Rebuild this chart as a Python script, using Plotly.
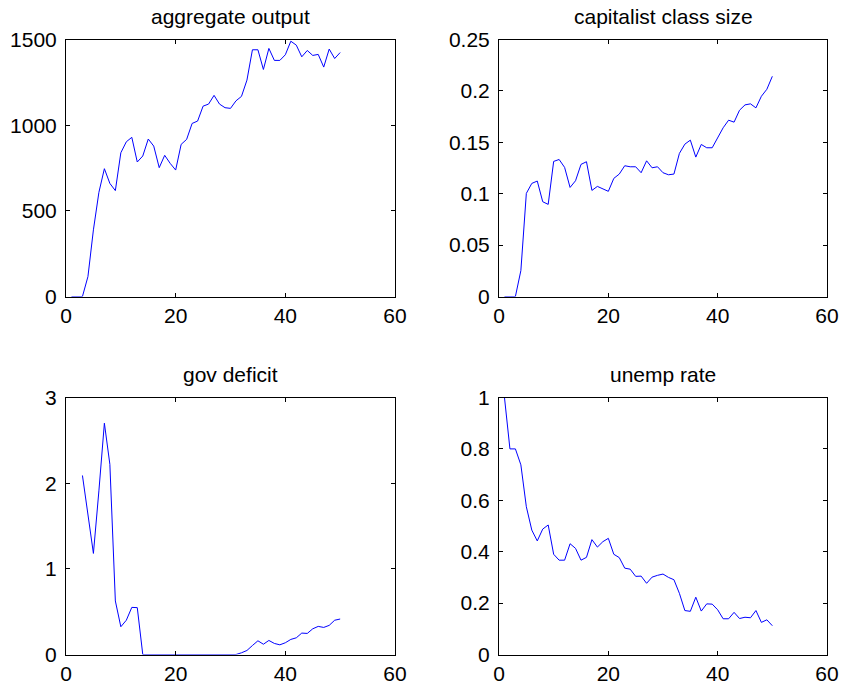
import plotly.graph_objects as go

steps = list(range(1, 51))

aggregate_output = [0, 0, 0, 116, 389, 608, 746, 660, 618, 839,
                    903, 929, 785, 820, 919, 878, 752, 824, 777, 738,
                    888, 917, 1010, 1024, 1111, 1123, 1174, 1123, 1102, 1098,
                    1142, 1168, 1263, 1440, 1440, 1325, 1448, 1378, 1378, 1411,
                    1490, 1467, 1399, 1436, 1407, 1413, 1339, 1444, 1389, 1424]

capitalist_class_size = [0, 0, 0, 0.0252, 0.1003, 0.110, 0.1123, 0.0922, 0.0896, 0.1314,
                         0.1333, 0.1256, 0.1061, 0.1126, 0.1285, 0.1311, 0.1032, 0.1071, 0.1045, 0.1023,
                         0.1149, 0.1191, 0.1272, 0.1262, 0.1262, 0.1204, 0.1320, 0.1252, 0.1262, 0.1204,
                         0.1184, 0.1191, 0.1392, 0.1482, 0.1521, 0.1356, 0.1479, 0.1447, 0.1447, 0.1547,
                         0.1641, 0.1715, 0.1696, 0.1812, 0.1864, 0.1874, 0.1835, 0.1948, 0.2016, 0.2142]

gov_deficit = [None, None, 2.09, 1.65, 1.18, 1.91, 2.70, 2.22, 0.625, 0.324,
               0.40, 0.55, 0.547, 0, 0, 0, 0, 0, 0, 0,
               0, 0, 0, 0, 0, 0, 0, 0, 0, 0,
               0, 0.02, 0.047, 0.105, 0.16, 0.12, 0.164, 0.129, 0.113, 0.137,
               0.176, 0.195, 0.25, 0.246, 0.30, 0.328, 0.316, 0.34, 0.40, 0.414]

unemp_rate = [1.0, 0.8, 0.8, 0.738, 0.575, 0.484, 0.442, 0.488, 0.504, 0.39,
              0.367, 0.367, 0.431, 0.413, 0.367, 0.378, 0.447, 0.418, 0.439, 0.452,
              0.39, 0.377, 0.336, 0.332, 0.304, 0.305, 0.277, 0.301, 0.308, 0.313,
              0.30, 0.291, 0.238, 0.171, 0.168, 0.223, 0.169, 0.197, 0.196, 0.174,
              0.139, 0.139, 0.164, 0.140, 0.145, 0.143, 0.171, 0.125, 0.135, 0.112]

titles = ["aggregate output", "capitalist class size", "gov deficit", "unemp rate"]
series = [aggregate_output, capitalist_class_size, gov_deficit, unemp_rate]
y_ranges = [[0, 1500], [0, 0.25], [0, 3], [0, 1]]
y_ticks = [[0, 500, 1000, 1500],
           [0, 0.05, 0.1, 0.15, 0.2, 0.25],
           [0, 1, 2, 3],
           [0, 0.2, 0.4, 0.6, 0.8, 1]]
y_ticktext = [["0", "500", "1000", "1500"],
              ["0", "0.05", "0.1", "0.15", "0.2", "0.25"],
              ["0", "1", "2", "3"],
              ["0", "0.2", "0.4", "0.6", "0.8", "1"]]
x_ticks = [0, 20, 40, 60]

W, H = 841, 686
x_doms = [[66 / W, 395 / W], [499 / W, 827 / W]]
y_doms = [[1 - 296.5 / H, 1 - 39.5 / H], [1 - 654.5 / H, 1 - 397.5 / H]]

FONT = "Liberation Sans, Arial, Helvetica, sans-serif"
FS = 21

fig = go.Figure()
layout = dict(
    width=W, height=H,
    margin=dict(l=0, r=0, t=0, b=0, autoexpand=False),
    paper_bgcolor="white", plot_bgcolor="white",
    showlegend=False,
    font=dict(family=FONT, size=FS, color="black"),
    annotations=[],
)

for i in range(4):
    r, c = divmod(i, 2)
    n = "" if i == 0 else str(i + 1)
    fig.add_trace(go.Scatter(
        x=steps, y=series[i], mode="lines",
        line=dict(color="#0000ff", width=1),
        xaxis="x" + n, yaxis="y" + n, connectgaps=False,
    ))
    axis_common = dict(
        showgrid=False, zeroline=False, showline=True, linecolor="black",
        linewidth=1, mirror="ticks", ticks="inside", ticklen=4,
        tickcolor="black", tickwidth=1, automargin=False,
        tickfont=dict(family=FONT, size=FS, color="black"),
    )
    layout["xaxis" + n] = dict(
        axis_common, domain=x_doms[c], range=[0, 60],
        tickmode="array", tickvals=x_ticks,
        ticktext=[str(v) for v in x_ticks],
        anchor="y" + n, ticklabelstandoff=0,
    )
    layout["yaxis" + n] = dict(
        axis_common, domain=y_doms[r], range=y_ranges[i],
        tickmode="array", tickvals=y_ticks[i], ticktext=y_ticktext[i],
        anchor="x" + n, ticklabelstandoff=4,
    )
    layout["annotations"].append(dict(
        text=titles[i], xref="paper", yref="paper",
        x=(x_doms[c][0] + x_doms[c][1]) / 2, y=y_doms[r][1] + 23 / H,
        xanchor="center", yanchor="middle", showarrow=False,
        font=dict(family=FONT, size=FS, color="black"),
    ))

fig.update_layout(**layout)
fig.write_html(
    "out.html",
    config={"displayModeBar": False},
    post_script="document.body.style.margin='0';document.body.style.overflow='hidden';",
)
